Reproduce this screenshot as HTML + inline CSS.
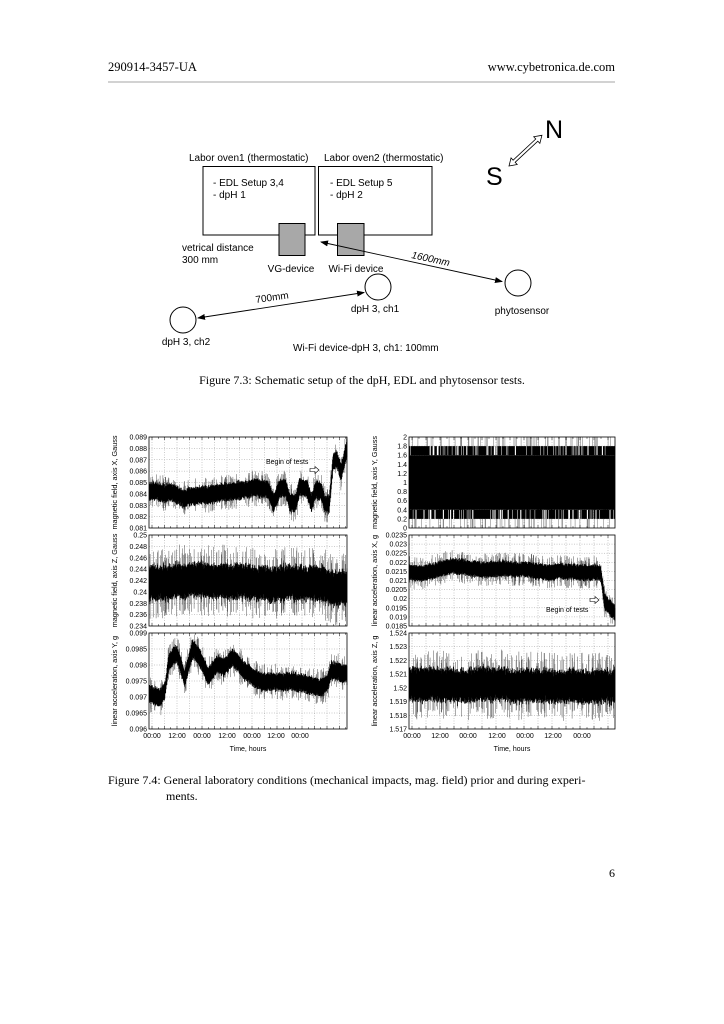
<!DOCTYPE html>
<html><head><meta charset="utf-8"><style>
html,body{margin:0;padding:0;background:#fff}
svg{display:block}
.s{font-family:"Liberation Serif",serif}
.a{font-family:"Liberation Sans",sans-serif}
</style></head><body>
<svg id="sv" width="724" height="1024" viewBox="0 0 724 1024" xmlns="http://www.w3.org/2000/svg">
<defs>
<marker id="ah" markerWidth="8" markerHeight="6" refX="7" refY="3" orient="auto" markerUnits="userSpaceOnUse"><path d="M0,0 L8,3 L0,6 Z" fill="#000"/></marker>
<marker id="ahs" markerWidth="8" markerHeight="6" refX="1" refY="3" orient="auto" markerUnits="userSpaceOnUse"><path d="M8,0 L0,3 L8,6 Z" fill="#000"/></marker>
</defs>
<text class="s" x="108" y="71" font-size="12.5">290914-3457-UA</text>
<text class="s" x="615" y="71" font-size="12.5" text-anchor="end">www.cybetronica.de.com</text>
<line x1="108" y1="82" x2="615" y2="82" stroke="#888" stroke-width="0.8"/>

<g class="a" font-size="10" fill="#000">
<text x="189" y="161">Labor oven1 (thermostatic)</text>
<text x="324" y="161">Labor oven2 (thermostatic)</text>
<rect x="203" y="166.5" width="112" height="68.5" fill="none" stroke="#000" stroke-width="1"/>
<rect x="318.5" y="166.5" width="113.5" height="68.5" fill="none" stroke="#000" stroke-width="1"/>
<text x="213" y="186">- EDL Setup 3,4</text>
<text x="213" y="198">- dpH 1</text>
<text x="330" y="186">- EDL Setup 5</text>
<text x="330" y="198">- dpH 2</text>
<rect x="279" y="223.5" width="26" height="32" fill="#a8a8a8" stroke="#000" stroke-width="1"/>
<rect x="337.5" y="223.5" width="26.5" height="32" fill="#a8a8a8" stroke="#000" stroke-width="1"/>
<text x="182" y="251">vetrical distance</text>
<text x="182" y="263">300 mm</text>
<text x="291" y="272" text-anchor="middle">VG-device</text>
<text x="356" y="272" text-anchor="middle">Wi-Fi device</text>
<line x1="321" y1="242" x2="502" y2="281.5" stroke="#000" stroke-width="0.9" marker-end="url(#ah)" marker-start="url(#ahs)"/>
<text x="411" y="258" transform="rotate(12 411 258)" font-style="italic">1600mm</text>
<circle cx="518" cy="283" r="13" fill="none" stroke="#000" stroke-width="1"/>
<text x="522" y="314" text-anchor="middle">phytosensor</text>
<circle cx="378" cy="287" r="13" fill="none" stroke="#000" stroke-width="1"/>
<text x="375" y="312" text-anchor="middle">dpH 3, ch1</text>
<circle cx="183" cy="320" r="13" fill="none" stroke="#000" stroke-width="1"/>
<text x="186" y="345" text-anchor="middle">dpH 3, ch2</text>
<line x1="364" y1="292.5" x2="198" y2="318" stroke="#000" stroke-width="0.9" marker-end="url(#ah)" marker-start="url(#ahs)"/>
<text x="256" y="303" transform="rotate(-8 256 303)">700mm</text>
<text x="293" y="351">Wi-Fi device-dpH 3, ch1: 100mm</text>
<text x="545" y="138" font-size="25">N</text>
<text x="486" y="185" font-size="25">S</text>
<g transform="translate(509,166) rotate(-43)">
<path d="M0,0 L7,-4.5 L7,-1.5 L38,-1.5 L38,-4.5 L45,0 L38,4.5 L38,1.5 L7,1.5 L7,4.5 Z" fill="#fff" stroke="#000" stroke-width="0.8"/>
</g>
</g>
<text class="s" x="362" y="384" font-size="12" text-anchor="middle">Figure 7.3: Schematic setup of the dpH, EDL and phytosensor tests.</text>

<g id="plots"></g>

<text class="s" x="108" y="784" font-size="12">Figure 7.4: General laboratory conditions (mechanical impacts, mag. field) prior and during experi-</text>
<text class="s" x="166" y="800" font-size="12">ments.</text>
<text class="s" x="615" y="877" font-size="12" text-anchor="end">6</text>
</svg>
<script>
(function(){
var g=document.getElementById('plots');var NS='http://www.w3.org/2000/svg';
var seed=7;function rnd(){seed=(seed*16807)%2147483647;return seed/2147483647;}
function gauss(){return (rnd()+rnd()+rnd()-1.5)/1.5;}
function el(t,a,txt){var e=document.createElementNS(NS,t);for(var k in a)e.setAttribute(k,a[k]);if(txt!==undefined)e.textContent=txt;g.appendChild(e);return e;}
function lin(pts,t){if(t<=pts[0][0])return pts[0][1];for(var i=1;i<pts.length;i++){if(t<=pts[i][0]){var a=pts[i-1],b=pts[i];return a[1]+(b[1]-a[1])*(t-a[0])/(b[0]-a[0]);}}return pts[pts.length-1][1];}
var L=[149,347],R=[409,615];
var Ys=[[437,528],[535,626],[633,729]];
var xtL=[152,177,202,227,252,276,300],xtR=[412,440,468,497,525,553,582];
var xl=['00:00','12:00','00:00','12:00','00:00','12:00','00:00'];
var P=[
 {x:L,y:Ys[0],min:.081,max:.089,tk:[.081,.082,.083,.084,.085,.086,.087,.088,.089],lb:['0.081','0.082','0.083','0.084','0.085','0.086','0.087','0.088','0.089'],title:'magnetic field, axis X, Gauss',
  pts:[[0,.0842],[.1,.0840],[.18,.0836],[.3,.0839],[.45,.0843],[.55,.0844],[.6,.0843],[.63,.0832],[.66,.0845],[.69,.0845],[.71,.0832],[.74,.0832],[.76,.0845],[.8,.0845],[.82,.0832],[.84,.0843],[.87,.0843],[.89,.0830],[.91,.0830],[.93,.0868],[.95,.0868],[.97,.0858],[1,.0880]],hw:.0009,wob:.0003},
 {x:L,y:Ys[1],min:.234,max:.25,tk:[.234,.236,.238,.24,.242,.244,.246,.248,.25],lb:['0.234','0.236','0.238','0.24','0.242','0.244','0.246','0.248','0.25'],title:'magnetic field, axis Z, Gauss',
  pts:[[0,.2415],[.3,.2422],[.7,.2415],[.88,.2413],[.92,.2405],[1,.2408]],hw:.0035,wob:.0006},
 {x:L,y:Ys[2],min:.096,max:.099,tk:[.096,.0965,.097,.0975,.098,.0985,.099],lb:['0.096','0.0965','0.097','0.0975','0.098','0.0985','0.099'],title:'linear acceleration, axis Y, g',
  pts:[[0,.0971],[.06,.0970],[.08,.0972],[.1,.0981],[.14,.0984],[.18,.0976],[.22,.0985],[.26,.0982],[.3,.0976],[.34,.0980],[.38,.0979],[.42,.0982],[.48,.0978],[.55,.0975],[.7,.09745],[.8,.09735],[.87,.0973],[.9,.0974],[.92,.0978],[1,.0977]],hw:.00032,wob:.0001},
 {x:R,y:Ys[0],min:0,max:2,tk:[0,.2,.4,.6,.8,1,1.2,1.4,1.6,1.8,2],lb:['0','0.2','0.4','0.6','0.8','1','1.2','1.4','1.6','1.8','2'],title:'magnetic field, axis Y, Gauss',digital:true},
 {x:R,y:Ys[1],min:.0185,max:.0235,tk:[.0185,.019,.0195,.02,.0205,.021,.0215,.022,.0225,.023,.0235],lb:['0.0185','0.019','0.0195','0.02','0.0205','0.021','0.0215','0.022','0.0225','0.023','0.0235'],title:'linear acceleration, axis X, g',
  pts:[[0,.02145],[.1,.02150],[.2,.0217],[.3,.0216],[.5,.0216],[.7,.0215],[.9,.02145],[.93,.02140],[.95,.0198],[1,.0192]],hw:.0005,wob:.0001},
 {x:R,y:Ys[2],min:1.517,max:1.524,tk:[1.517,1.518,1.519,1.52,1.521,1.522,1.523,1.524],lb:['1.517','1.518','1.519','1.52','1.521','1.522','1.523','1.524'],title:'linear acceleration, axis Z, g',
  pts:[[0,1.5203],[.5,1.5202],[1,1.5200]],hw:.0014,wob:.0002}
];
P.forEach(function(p,i){
 var x0=p.x[0],x1=p.x[1],y0=p.y[0],y1=p.y[1],w=x1-x0,h=y1-y0;
 function Y(v){return Math.max(y0,Math.min(y1,y1-(v-p.min)/(p.max-p.min)*h));}
 var xt=(p.x===L)?xtL:xtR,sp=xt[1]-xt[0];
 for(var k=-1;k<20;k++){var gx=xt[0]+k*sp/2;if(gx>x0+1&&gx<x1-1)el('line',{x1:gx,y1:y0,x2:gx,y2:y1,stroke:'#999','stroke-width':.5,'stroke-dasharray':'1,1.5'});}
 p.tk.forEach(function(v,j){var yy=y1-(v-p.min)/(p.max-p.min)*h;if(j>0&&j<p.tk.length-1)el('line',{x1:x0,y1:yy,x2:x1,y2:yy,stroke:'#999','stroke-width':.5,'stroke-dasharray':'1,1.5'});
  el('text',{x:x0-2,y:yy+2.5,'font-size':7,'text-anchor':'end','font-family':'Liberation Sans, sans-serif'},p.lb[j]);});
 if(p.digital){
  el('path',{d:'M'+x0+','+Y(1.6)+'H'+x1+'V'+Y(.4)+'H'+x0+'Z',fill:'#000'});
  var dd='',dg='';
  for(var xx=x0+.5;xx<x1;xx+=.6){if(rnd()<.8)dd+='M'+xx+','+Y(1.8)+'V'+Y(1.6);if(rnd()<.75)dd+='M'+xx+','+Y(.4)+'V'+Y(.2);if(rnd()<.2)dd+='M'+xx+','+Y(.6)+'V'+Y(.4);if(rnd()<.2)dg+='M'+xx+','+Y(2)+'V'+Y(1.8);if(rnd()<.2)dg+='M'+xx+','+Y(.2)+'V'+Y(0);}
  el('path',{d:dg,stroke:'#888','stroke-width':.6});
  el('path',{d:dd,stroke:'#000','stroke-width':.7});
 }else{
  var dd='',dg='',wb=0;
  for(var xx=x0+.3;xx<x1;xx+=.4){var t=(xx-x0)/w;wb=wb*.97+gauss()*p.wob*.25;var c=lin(p.pts,t)+wb;
   var a=c+p.hw*(.8+.3*gauss()),b=c-p.hw*(.8+.3*gauss());
   dd+='M'+xx.toFixed(1)+','+Y(a).toFixed(1)+'V'+Y(b).toFixed(1);
   if(rnd()<.25){var s1=p.hw*(1.1+rnd()*.7),s2=p.hw*(1.1+rnd()*.7);dg+='M'+xx.toFixed(1)+','+Y(c+s1).toFixed(1)+'V'+Y(c-s2).toFixed(1);}
  }
  el('path',{d:dg,stroke:'#555','stroke-width':.5});
  el('path',{d:dd,stroke:'#000','stroke-width':.7});
 }
 el('rect',{x:x0,y:y0,width:w,height:h,fill:'none',stroke:'#000','stroke-width':.8});
 var tt='';for(var k=-4;k<40;k++){var gx=xt[0]+k*sp/4;if(gx>x0&&gx<x1){var L2=(k%2==0)?3:1.8;tt+='M'+gx+','+y0+'v'+L2+'M'+gx+','+y1+'v-'+L2;}}
 el('path',{d:tt,stroke:'#000','stroke-width':.5});
 var ty=(y0+y1)/2,tx=(p.x===L)?117:377;
 el('text',{x:tx,y:ty,'font-size':7.3,'text-anchor':'middle',transform:'rotate(-90 '+tx+' '+ty+')','font-family':'Liberation Sans, sans-serif'},p.title);
 if(i%3==2){xt.forEach(function(v,j){el('text',{x:v,y:y1+9,'font-size':7,'text-anchor':'middle','font-family':'Liberation Sans, sans-serif'},xl[j]);});
  el('text',{x:(x0+x1)/2,y:y1+22,'font-size':7,'text-anchor':'middle','font-family':'Liberation Sans, sans-serif'},'Time, hours');}
});
function fat(x,y){el('path',{d:'M'+x+','+(y-1.5)+'h5v-2l4,3.5l-4,3.5v-2h-5z',fill:'#fff',stroke:'#000','stroke-width':.6});}
el('text',{x:266,y:464,'font-size':7,'font-family':'Liberation Sans, sans-serif'},'Begin of tests');
fat(310,470);
el('text',{x:546,y:612,'font-size':7,'font-family':'Liberation Sans, sans-serif'},'Begin of tests');
fat(590,600);
})();
</script>
</body></html>
